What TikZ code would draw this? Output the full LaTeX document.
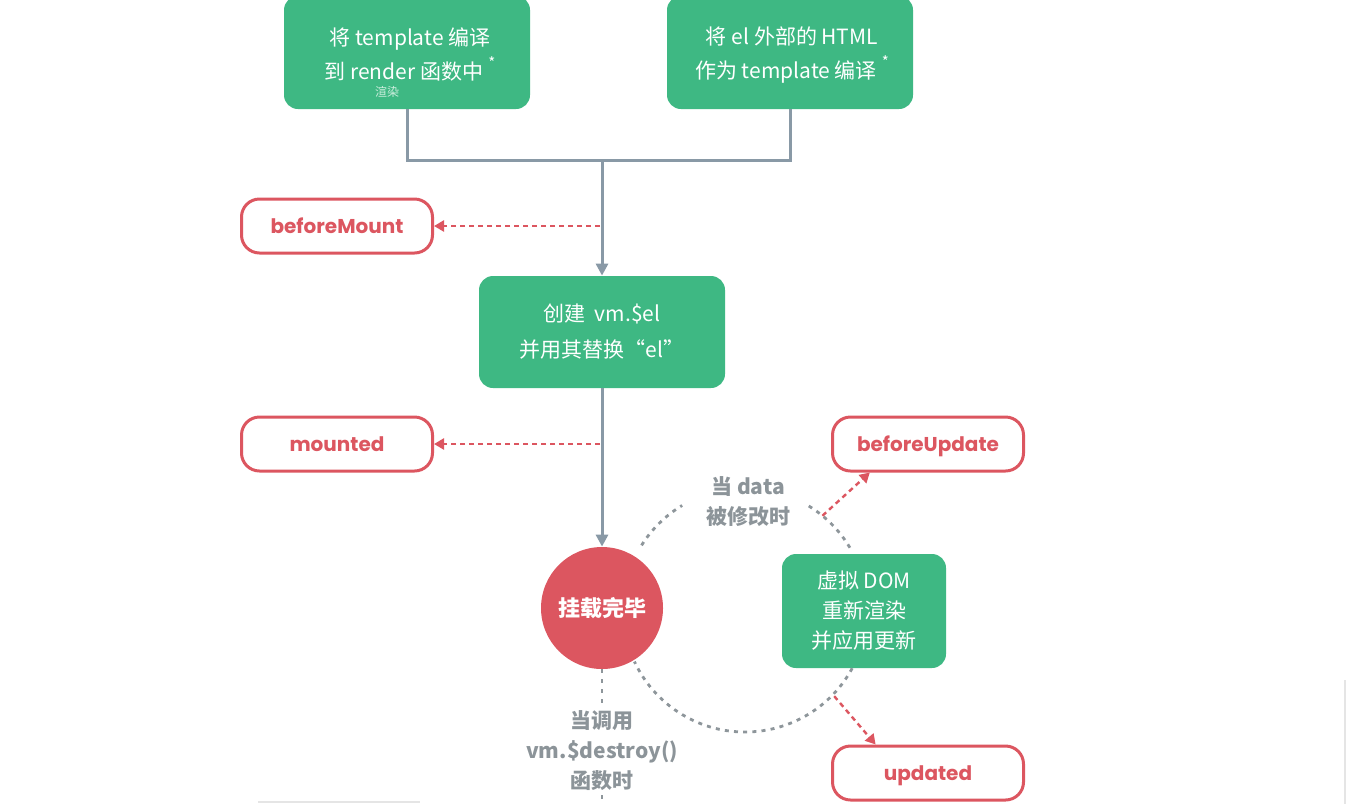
\documentclass[tikz,border=0pt]{standalone}
\usepackage{fontspec}
\setmainfont{Noto Sans CJK SC}
\newfontfamily\popfont{Poppins}
\usetikzlibrary{arrows.meta,calc}
\definecolor{vgreen}{RGB}{62,184,131}
\definecolor{vred}{RGB}{220,86,96}
\definecolor{vgray}{RGB}{137,153,166}
\definecolor{tgray}{RGB}{140,148,153}
\definecolor{dgray}{RGB}{142,150,155}
\definecolor{smalltxt}{RGB}{205,238,222}
\newcommand{\astk}{\hspace{2.5pt}\raisebox{.5em}{\fontsize{7.5}{7.5}\selectfont *}}
\tikzset{
  greenbox/.style={fill=vgreen, rounded corners=7pt, text=white, align=center,
    font=\fontsize{10.5}{17}\selectfont, inner sep=0pt},
  hookbox/.style={draw=vred, line width=1.5pt, fill=white, rounded corners=9pt,
    minimum width=95.5pt, minimum height=27pt, text=vred, inner sep=0pt, text depth=0pt,
    font=\popfont\bfseries\fontsize{10}{12}\selectfont},
  flow/.style={draw=vgray, line width=1.5pt},
  flowarrow/.style={flow, -{Triangle[width=6pt,length=6pt]}},
  hookarrow/.style={draw=vred, line width=1.2pt, dash pattern=on 2.5pt off 2pt,
    -{Triangle[width=5.5pt,length=5pt]}},
  dotline/.style={draw=dgray, line width=1.4pt, dash pattern=on 2pt off 2.6pt},
  graytxt/.style={text=tgray, align=center, font=\bfseries\fontsize{10.5}{15}\selectfont},
}
\begin{document}
\begin{tikzpicture}[x=0.5pt,y=0.5pt]
\useasboundingbox (0,0) rectangle (1347,-804);
% green boxes
\node[greenbox, minimum width=123pt, minimum height=56.5pt] (b1) at (407,-52.5) {};
\node[text=white, align=center, font=\fontsize{10.5}{17}\selectfont] (t1) at (410,-54)
  {将 template 编译\\到 render 函数中\astk};
\node[text=smalltxt, font=\fontsize{6}{6}\selectfont] (t1s) at (387,-92) {渲染};
\node[greenbox, minimum width=123pt, minimum height=56.5pt] (b2) at (790,-52.5) {};
\node[text=white, align=center, font=\fontsize{10.5}{17}\selectfont] (t2) at (792,-55)
  {将 el 外部的 HTML\\作为 template 编译\astk};
\node[greenbox, minimum width=123pt, minimum height=56pt] (b3) at (602,-332)
  {创建\ \ vm.\$el\\[1pt]并用其替换“el”};
\node[greenbox, minimum width=82pt, minimum height=57pt,
  font=\fontsize{10.5}{15}\selectfont] (b4) at (864,-611)
  {虚拟 DOM\\重新渲染\\并应用更新};
% hook boxes
\node[hookbox] (bm) at (337,-226) {beforeMount};
\node[hookbox] (mt) at (337,-444) {mounted};
\node[hookbox] (bu) at (928,-444) {beforeUpdate};
\node[hookbox] (up) at (928,-773) {updated};
% circle
\node[circle, fill=vred, minimum size=61pt, inner sep=0pt, text=white,
  font=\bfseries\fontsize{11}{13}\selectfont] (mc) at (602,-608) {挂载完毕};
% top connectors
\coordinate (j) at (602,-160);
\draw[flow] (b1.south) |- (j);
\draw[flow] (b2.south) |- (j);
\draw[flowarrow] (j) -- (b3.north);
\draw[flowarrow] (b3.south) -- (mc.north);
% hook arrows
\coordinate (h1) at (600,-226);
\coordinate (h2) at (600,-444);
\draw[hookarrow] (h1) -- (bm.east);
\draw[hookarrow] (h2) -- (mt.east);
% dotted update cycle
\coordinate (cc) at (745,-610);
\draw[dotline] ($(cc)+(148:122)$) arc[start angle=148, end angle=121, radius=122];
\draw[dotline] ($(cc)+(58.5:122)$) arc[start angle=58.5, end angle=28.5, radius=122];
\draw[dotline] ($(cc)+(-28.5:122)$) arc[start angle=-28.5, end angle=-155, radius=122];
\node[graytxt] (dt) at (748,-502) {当 data\\被修改时};
\coordinate (u1) at ($(cc)+(50.6:122)$);
\coordinate (u2) at ($(cc)+(-44:124)$);
\draw[hookarrow] (u1) -- ($(bu.south west)!0.2!(bu.south east)$);
\draw[hookarrow] (u2) -- ($(up.north west)!0.23!(up.north east)$);
% destroy
\node[graytxt] (ds) at (602,-751) {当调用\\vm.\$destroy()\\函数时};
\coordinate (d1) at (602,-705);
\coordinate (d2) at (602,-795);
\coordinate (d3) at (602,-812);
\draw[dotline, dash pattern=on 2pt off 3pt] (mc.south) -- (d1);
\draw[dotline, dash pattern=on 2pt off 3pt] (d2) -- (d3);
% faint screenshot edges
\coordinate (e1) at (1345,-680);
\coordinate (e2) at (1345,-804);
\coordinate (e3) at (258,-802);
\coordinate (e4) at (420,-802);
\draw[gray!20, line width=0.6pt] (e1) -- (e2);
\draw[gray!20, line width=0.6pt] (e3) -- (e4);
\end{tikzpicture}
\end{document}
